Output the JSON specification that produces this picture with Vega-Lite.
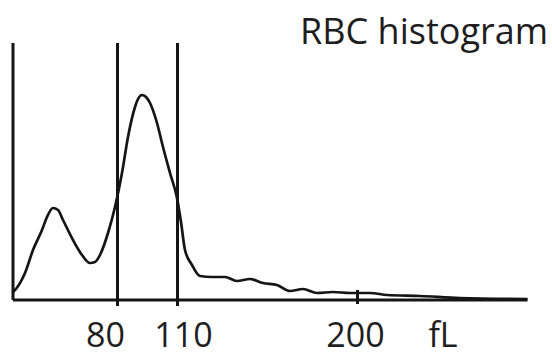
{
  "$schema": "https://vega.github.io/schema/vega-lite/v6.json",
  "width": 515,
  "height": 263,
  "autosize": {"type": "none"},
  "padding": {"left": 13, "top": 43, "right": 24, "bottom": 50},
  "background": "white",
  "config": {"view": {"stroke": null}},
  "title": {
    "text": "RBC histogram",
    "anchor": "end",
    "frame": "group",
    "orient": "top",
    "baseline": "alphabetic",
    "offset": 0,
    "dx": 20,
    "dy": 38,
    "font": "Open Sans",
    "fontSize": 36,
    "fontWeight": "normal",
    "color": "#1e1e1e"
  },
  "datasets": {
    "curve": [
      {"fL": 27.75, "count": 8},
      {"fL": 29.6, "count": 12},
      {"fL": 33.75, "count": 27},
      {"fL": 37.75, "count": 50},
      {"fL": 42.25, "count": 70},
      {"fL": 44.75, "count": 83},
      {"fL": 47.75, "count": 92},
      {"fL": 50.25, "count": 90},
      {"fL": 52.75, "count": 80},
      {"fL": 57.75, "count": 60},
      {"fL": 62.25, "count": 45},
      {"fL": 66.25, "count": 37},
      {"fL": 68.75, "count": 38},
      {"fL": 71.25, "count": 45},
      {"fL": 75.25, "count": 67},
      {"fL": 78.75, "count": 93},
      {"fL": 82.25, "count": 127},
      {"fL": 85.25, "count": 163},
      {"fL": 88.75, "count": 193},
      {"fL": 90.25, "count": 201},
      {"fL": 92.25, "count": 205},
      {"fL": 94.25, "count": 203},
      {"fL": 96.25, "count": 197},
      {"fL": 99.75, "count": 177},
      {"fL": 102.75, "count": 153},
      {"fL": 106.25, "count": 127},
      {"fL": 109.75, "count": 102},
      {"fL": 111.75, "count": 78},
      {"fL": 113.75, "count": 50},
      {"fL": 117.25, "count": 35},
      {"fL": 121.25, "count": 24},
      {"fL": 127.25, "count": 23},
      {"fL": 133.75, "count": 23},
      {"fL": 139.75, "count": 19},
      {"fL": 146.25, "count": 21},
      {"fL": 152.75, "count": 17},
      {"fL": 159.75, "count": 15},
      {"fL": 166.25, "count": 9},
      {"fL": 172.75, "count": 11},
      {"fL": 179.75, "count": 7},
      {"fL": 187.75, "count": 8},
      {"fL": 196.25, "count": 7},
      {"fL": 206.25, "count": 7},
      {"fL": 214.75, "count": 5},
      {"fL": 231.25, "count": 4},
      {"fL": 251.25, "count": 2},
      {"fL": 285, "count": 1}
    ],
    "lines": [
      {"x1": 27.75, "x2": 27.75, "y1": 0, "y2": 257},
      {"x1": 80, "x2": 80, "y1": -6, "y2": 257},
      {"x1": 110, "x2": 110, "y1": -6, "y2": 257},
      {"x1": 27.75, "x2": 285, "y1": 0, "y2": 0},
      {"x1": 200, "x2": 200, "y1": -4, "y2": 10}
    ],
    "labels": [
      {"pos": 80, "label": "80"},
      {"pos": 110, "label": "110"},
      {"pos": 200, "label": "200"},
      {"pos": 243.75, "label": "fL"}
    ]
  },
  "layer": [
    {
      "data": {"name": "lines"},
      "mark": {"type": "rule", "color": "#151515", "strokeWidth": 3},
      "encoding": {
        "x": {"field": "x1", "type": "quantitative", "scale": {"domain": [27.75, 285.25], "nice": false, "zero": false}, "axis": null},
        "x2": {"field": "x2"},
        "y": {"field": "y1", "type": "quantitative", "scale": {"domain": [-6, 257], "nice": false, "zero": false}, "axis": null},
        "y2": {"field": "y2"}
      }
    },
    {
      "data": {"name": "curve"},
      "mark": {"type": "line", "color": "#151515", "strokeWidth": 2.7, "interpolate": "monotone"},
      "encoding": {
        "x": {"field": "fL", "type": "quantitative"},
        "y": {"field": "count", "type": "quantitative"}
      }
    },
    {
      "data": {"name": "labels"},
      "transform": [{"filter": "datum.label == '80'"}],
      "mark": {"type": "text", "font": "Open Sans", "fontSize": 34, "baseline": "middle", "align": "center", "dx": -12, "color": "#1e1e1e"},
      "encoding": {
        "x": {"field": "pos", "type": "quantitative"},
        "y": {"datum": -37},
        "text": {"field": "label"}
      }
    },
    {
      "data": {"name": "labels"},
      "transform": [{"filter": "datum.label == '110'"}],
      "mark": {"type": "text", "font": "Open Sans", "fontSize": 34, "baseline": "middle", "align": "center", "dx": 6, "color": "#1e1e1e"},
      "encoding": {
        "x": {"field": "pos", "type": "quantitative"},
        "y": {"datum": -37},
        "text": {"field": "label"}
      }
    },
    {
      "data": {"name": "labels"},
      "transform": [{"filter": "datum.label == '200' || datum.label == 'fL'"}],
      "mark": {"type": "text", "font": "Open Sans", "fontSize": 34, "baseline": "middle", "align": "center", "dx": -2, "color": "#1e1e1e"},
      "encoding": {
        "x": {"field": "pos", "type": "quantitative"},
        "y": {"datum": -37},
        "text": {"field": "label"}
      }
    }
  ]
}
